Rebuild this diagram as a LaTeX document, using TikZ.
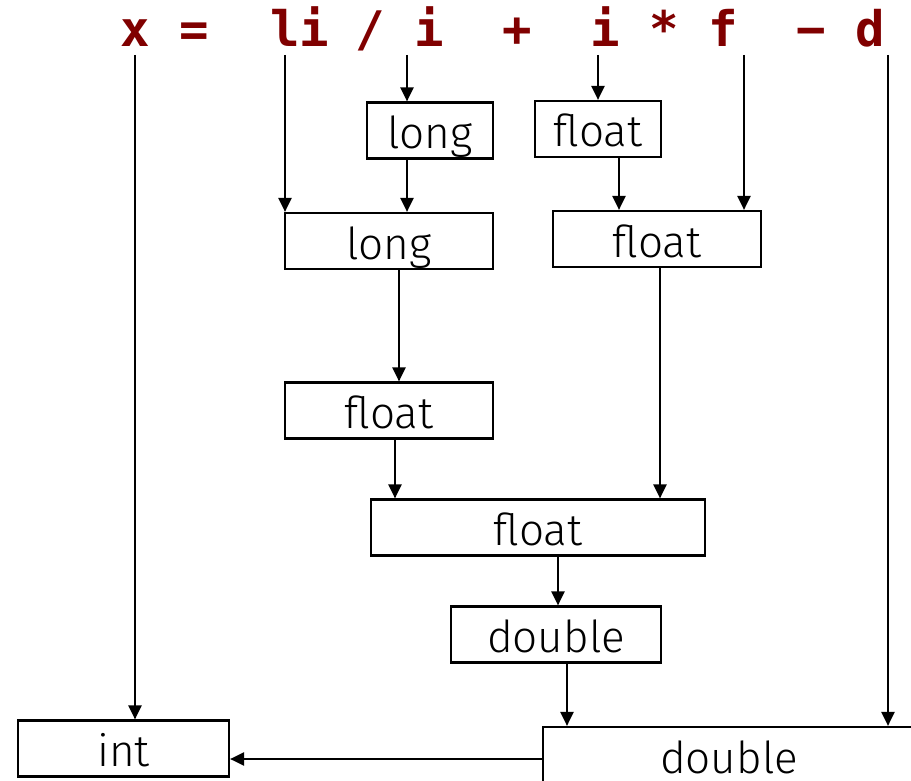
\documentclass[tikz,border=0pt]{standalone}
\usepackage{fontspec}
\IfFontExistsTF{Fira Sans Light}{\setmainfont{Fira Sans Light}}{\setmainfont{Fira Sans}}
\newfontfamily\codefont{DejaVu Sans Mono}
\usetikzlibrary{arrows.meta}
\definecolor{codered}{HTML}{800000}
\tikzset{
  typebox/.style={draw, line width=2.2pt, inner sep=0pt, text height=36pt, text depth=0pt,
    minimum height=56pt, font=\fontsize{44}{44}\selectfont},
  tok/.style={anchor=base, inner sep=0pt, text=codered, font=\codefont\bfseries\fontsize{49}{49}\selectfont},
  arr/.style={line width=2.2pt, -{Triangle[length=14pt,width=13pt]}}
}
\begin{document}
\begin{tikzpicture}[x=1pt,y=-1pt]
\clip (0,0) rectangle (911,781);
\useasboundingbox (0,0) rectangle (911,781);
% expression
\node[tok] (tx)  at (135,47) {x};
\node[tok] (teq) at (194,47) {=};
\node[tok] (tli) at (299.5,47) {li};
\node[tok] (tdiv) at (370,47) {/};
\node[tok] (ti1) at (429,47) {i};
\node[tok] (tplus) at (517,47) {+};
\node[tok] (ti2) at (605,47) {i};
\node[tok] (tmul) at (664,47) {*};
\node[tok] (tf)  at (723,47) {f};
\node[tok] (tminus) at (811,47) {−};
\node[tok] (td)  at (870,47) {d};
% arrow starts
\coordinate (sx) at (135,55);
\coordinate (sli) at (285,55);
\coordinate (si1) at (407,55);
\coordinate (si2) at (598,55);
\coordinate (sf) at (744,55);
\coordinate (sd) at (888,55);
% boxes
\node[typebox, minimum width=126pt] (long1) at (430,130.5) {long};
\node[typebox, minimum width=126pt] (float1) at (598,129) {float};
\node[typebox, minimum width=208pt] (long2) at (389,241) {long};
\node[typebox, minimum width=208pt] (float2) at (657,239) {float};
\node[typebox, minimum width=208pt] (float3) at (389,410.5) {float};
\node[typebox, minimum width=334pt] (float4) at (538,527.5) {float};
\node[typebox, minimum width=210pt] (double1) at (556,634.5) {double};
\node[typebox, minimum width=211pt] (int) at (123.5,748.5) {int};
\node[typebox, minimum width=372pt, text width=368pt, align=center] (double2) at (729,755) {double};
% column guides
\coordinate (cl1) at (407,0);
\coordinate (cf1) at (619,0);
\coordinate (cl2) at (399,0);
\coordinate (cf3) at (395,0);
\coordinate (cf2) at (660,0);
\coordinate (cf4) at (558,0);
\coordinate (cd1) at (567,0);
\coordinate (rowb) at (0,759);
% arrows from expression
\draw[arr] (sx) -- (int.north -| sx);
\draw[arr] (sli) -- (long2.north -| sli);
\draw[arr] (si1) -- (long1.north -| si1);
\draw[arr] (si2) -- (float1.north -| si2);
\draw[arr] (sf) -- (float2.north -| sf);
\draw[arr] (sd) -- (double2.north -| sd);
% arrows between boxes
\draw[arr] (long1.south -| cl1) -- (long2.north -| cl1);
\draw[arr] (float1.south -| cf1) -- (float2.north -| cf1);
\draw[arr] (long2.south -| cl2) -- (float3.north -| cl2);
\draw[arr] (float3.south -| cf3) -- (float4.north -| cf3);
\draw[arr] (float2.south -| cf2) -- (float4.north -| cf2);
\draw[arr] (float4.south -| cf4) -- (double1.north -| cf4);
\draw[arr] (double1.south -| cd1) -- (double2.north -| cd1);
\draw[arr] (double2.west |- rowb) -- (int.east |- rowb);
\end{tikzpicture}
\end{document}
